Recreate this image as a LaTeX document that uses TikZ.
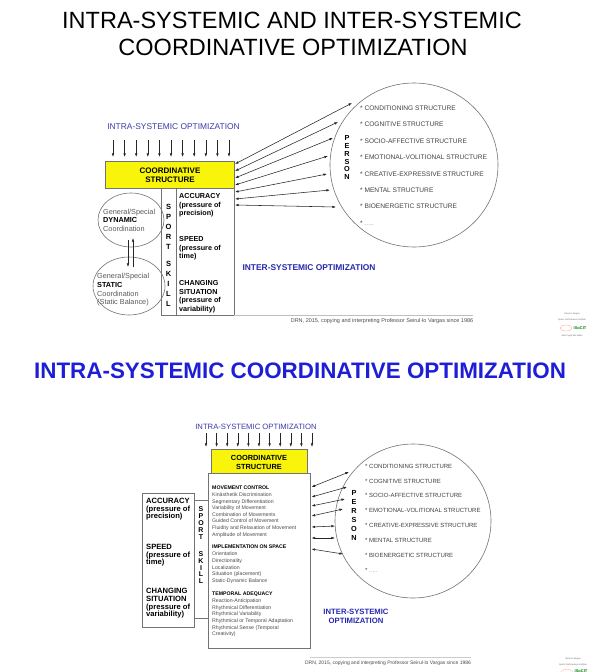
\documentclass[tikz,border=0pt]{standalone}
\usepackage{fontspec}
\setmainfont{Liberation Sans}
\usetikzlibrary{arrows.meta,shapes.geometric}
\definecolor{lblblue}{RGB}{60,60,170}
\definecolor{interblue}{RGB}{40,40,175}
\definecolor{ttlblue}{RGB}{30,30,215}
\definecolor{boxgray}{RGB}{115,115,115}
\definecolor{txtgray}{RGB}{65,65,65}
\definecolor{yel}{RGB}{248,244,10}
\newcommand{\fsz}[2]{\fontsize{#1}{#2}\selectfont}
\begin{document}
\begin{tikzpicture}[x=1pt,y=-1pt,
  myhead/.tip={Latex[length=3.6pt,width=2.5pt]},
  arr/.style={-myhead, line width=0.55pt, draw=black!85},
  darr/.style={myhead-myhead, line width=0.55pt, draw=black!85},
  txt/.style={inner sep=0pt, align=left, anchor=north west},
  ctxt/.style={inner sep=0pt, align=center},
  boxnd/.style={draw=boxgray, line width=0.6pt, inner sep=0pt, anchor=north west, fill=white},
  ybox/.style={boxnd, fill=yel},
  ovalnd/.style={draw=boxgray, line width=0.6pt, ellipse, inner sep=0pt}
]
\useasboundingbox (0,0) rectangle (600,672);
\fill[white] (0,0) rectangle (600,672);

% ================= TOP DIAGRAM =================
\node[ctxt, font=\fsz{23.5}{27}] (title1) at (292,20) {INTRA-SYSTEMIC AND INTER-SYSTEMIC};
\node[ctxt, font=\fsz{23.5}{27}] (title2) at (293,47.5) {COORDINATIVE OPTIMIZATION};

\node[ctxt, font=\fsz{8.4}{10}, text=lblblue] (intraA) at (173.5,127) {INTRA-SYSTEMIC OPTIMIZATION};
\foreach \i in {0,...,10}{
  \coordinate (da\i) at ({113+\i*11.6},140);
  \coordinate (db\i) at ({113+\i*11.6},157);
  \draw[arr] (da\i) -- (db\i);
}

% circle PERSON (top)
\node[ovalnd, minimum width=168pt, minimum height=164pt] (persA) at (414,165) {};
\node[txt, font=\fsz{6.6}{16.4}, text=txtgray] (itemsA) at (360,105.6)
 {* CONDITIONING STRUCTURE\\* COGNITIVE STRUCTURE\\* SOCIO-AFFECTIVE STRUCTURE\\* EMOTIONAL-VOLITIONAL STRUCTURE\\* CREATIVE-EXPRESSIVE STRUCTURE\\* MENTAL STRUCTURE\\* BIOENERGETIC STRUCTURE\\* {\color{black!40}.....}};
\node[ctxt, anchor=north, font=\bfseries\fsz{7.3}{7.8}] (personA) at (347,135.4) {P\\E\\R\\S\\O\\N};

% skill box (top)
\node[boxnd, minimum width=73pt, minimum height=127pt] (skillA) at (161,188) {};
\draw[draw=boxgray, line width=0.6pt] (skillA.north west) ++(15,0) coordinate (sdA1) -- (sdA1 |- skillA.south) coordinate (sdA2);
\node[ybox, minimum width=129pt, minimum height=27pt] (coordA) at (105,161) {};
\node[ctxt, font=\bfseries\fsz{8}{9}] (coordAt) at (170,175.5) {COORDINATIVE\\STRUCTURE};
\node[ctxt, anchor=north, font=\bfseries\fsz{7.5}{10}] (sportA) at (168.5,204.3) {S\\P\\O\\R\\T};
\node[ctxt, anchor=north, font=\bfseries\fsz{7.5}{10}] (skilA) at (168.5,261.3) {S\\K\\I\\L\\L};
\node[txt, font=\bfseries\fsz{7.2}{8.6}] (accA) at (179,193.4) {ACCURACY\\(pressure of\\precision)};
\node[txt, font=\bfseries\fsz{7.2}{8.6}] (spdA) at (179,236.4) {SPEED\\(pressure of\\time)};
\node[txt, font=\bfseries\fsz{7.2}{8.6}] (chgA) at (179,280.4) {CHANGING\\SITUATION\\(pressure of\\variability)};

% ellipses (top)
\node[ovalnd, minimum width=66pt, minimum height=54pt] (dynA) at (131,220) {};
\node[ovalnd, minimum width=72pt, minimum height=58pt] (statA) at (129,286) {};
\node[txt, font=\fsz{7.3}{8.1}, text=black!65] (dynAt) at (103,209.4) {General/Special\\{\bfseries\color{black}DYNAMIC}\\Coordination};
\node[txt, font=\fsz{7.3}{8.7}, text=black!65] (statAt) at (97,273.4) {General/Special\\{\bfseries\color{black}STATIC}\\Coordination\\(Static Balance)};
\coordinate (vA1) at (128,240); \coordinate (vA2) at (128,267);
\coordinate (vB1) at (133,267); \coordinate (vB2) at (133,238);
\draw[arr] (vA1) -- (vA2);
\draw[arr] (vB1) -- (vB2);

% inter arrows (top)
\foreach \n/\ly/\rx/\ry in {1/164/352/103, 2/171/338/122, 3/178/333/138, 4/185/328/156, 5/192/327/174, 6/199/330/190, 7/205/336/207}{
  \coordinate (tL\n) at (235,\ly);
  \coordinate (tR\n) at (\rx,\ry);
  \draw[darr] (tL\n) -- (tR\n);
}
\node[ctxt, font=\bfseries\fsz{8.4}{10}, text=interblue] (interA) at (309,268) {INTER-SYSTEMIC OPTIMIZATION};

\coordinate (sepA1) at (234,315.5); \coordinate (sepA2) at (473,315.5);
\draw[black!25, line width=0.4pt] (sepA1) -- (sepA2);
\node[ctxt, font=\fsz{5.5}{6}, text=black!70] (creditA) at (382,321) {DRN, 2015, copying and interpreting Professor Seirul·lo Vargas since 1986};

% logo (top)
\node[ctxt, font=\fsz{2.2}{2.6}, text=black!60] (logoA1) at (572,314) {Seirul·lo Vargas};
\node[ctxt, font=\fsz{2.2}{2.6}, text=black!60] (logoA2) at (572,320) {Sports Performance Institute};
\draw[pink!80!red, line width=0.3pt] (566,328) ellipse [x radius=6pt, y radius=3pt];
\node[ctxt, font=\bfseries\fsz{4}{4}, text=green!50!black] (logoA3) at (580,328) {ISoCIT};
\node[ctxt, font=\fsz{2.2}{2.6}, text=black!60] (logoA4) at (572,336) {Sant Cugat del Vallès};

% ================= BOTTOM DIAGRAM =================
\node[ctxt, font=\bfseries\fsz{22.4}{26}, text=ttlblue] (title3) at (300,371) {INTRA-SYSTEMIC COORDINATIVE OPTIMIZATION};

\node[ctxt, font=\fsz{7.7}{9}, text=lblblue] (intraB) at (256,427) {INTRA-SYSTEMIC OPTIMIZATION};
\foreach \i in {0,...,10}{
  \coordinate (ea\i) at ({206+\i*10.6},433);
  \coordinate (eb\i) at ({206+\i*10.6},447);
  \draw[arr] (ea\i) -- (eb\i);
}
\node[ybox, minimum width=96pt, minimum height=24pt] (coordB) at (211,449) {};
\node[ctxt, font=\bfseries\fsz{7.4}{9}] (coordBt) at (259,462.5) {COORDINATIVE\\STRUCTURE};

\node[boxnd, minimum width=102pt, minimum height=175pt] (mainB) at (208,473) {};
\node[txt, font=\fsz{5.2}{6.6}, text=black!70] (mcB) at (212,486.1)
 {{\bfseries\color{black}MOVEMENT CONTROL}\\Kinästhetik Discrimination\\Segmentary Differentiation\\Variability of Movement\\Combination of Movements\\Guided Control of Movement\\Fluidity and Relaxation of Movement\\Amplitude of Movement};
\node[txt, font=\fsz{5.2}{6.75}, text=black!70] (isB) at (212,545.1)
 {{\bfseries\color{black}IMPLEMENTATION ON SPACE}\\Orientation\\Directionality\\Localization\\Situation (placement)\\Static-Dynamic Balance};
\node[txt, font=\fsz{5.2}{6.65}, text=black!70] (taB) at (212,592.1)
 {{\bfseries\color{black}TEMPORAL ADEQUACY}\\Reaction-Anticipation\\Rhythmical Differentiation\\Rhythmical Variability\\Rhythmical or Temporal Adaptation\\Rhythmical Sense (Temporal\\Creativity)};

\node[boxnd, minimum width=14pt, minimum height=118pt] (skillB) at (194,500) {};
\node[ctxt, anchor=north, font=\bfseries\fsz{7}{7}] (sportB) at (201,506.5) {S\\P\\O\\R\\T};
\node[ctxt, anchor=north, font=\bfseries\fsz{7}{6.75}] (skilB) at (201,551.5) {S\\K\\I\\L\\L};

\node[boxnd, minimum width=52pt, minimum height=134pt] (leftB) at (142,493) {};
\node[txt, font=\bfseries\fsz{7.6}{7.3}] (accB) at (146,498.3) {ACCURACY\\(pressure of\\precision)};
\node[txt, font=\bfseries\fsz{7.6}{7.3}] (spdB) at (146,544.3) {SPEED\\(pressure of\\time)};
\node[txt, font=\bfseries\fsz{7.6}{7.7}] (chgB) at (146,588.3) {CHANGING\\SITUATION\\(pressure of\\variability)};

\node[ovalnd, minimum width=156pt, minimum height=154pt] (persB) at (413,521) {};
\node[txt, font=\fsz{6.0}{14.9}, text=txtgray] (itemsB) at (365,463.8)
 {* CONDITIONING STRUCTURE\\* COGNITIVE STRUCTURE\\* SOCIO-AFFECTIVE STRUCTURE\\* EMOTIONAL-VOLITIONAL STRUCTURE\\* CREATIVE-EXPRESSIVE STRUCTURE\\* MENTAL STRUCTURE\\* BIOENERGETIC STRUCTURE\\* {\color{black!40}.....}};
\node[ctxt, anchor=north, font=\bfseries\fsz{7.3}{9}] (personB) at (354,490.4) {P\\E\\R\\S\\O\\N};

\foreach \n/\ly/\rx/\ry in {1/487/349/472, 2/497/347/487, 3/506/345/499, 4/516/343/509, 5/527/335/526, 6/538/335/538, 7/549/343/554}{
  \coordinate (bL\n) at (311.5,\ly);
  \coordinate (bR\n) at (\rx,\ry);
  \draw[darr] (bL\n) -- (bR\n);
}
\node[ctxt, font=\bfseries\fsz{7.7}{9}, text=interblue] (interB) at (356,616.5) {INTER-SYSTEMIC\\OPTIMIZATION};

\coordinate (sepB1) at (310,657); \coordinate (sepB2) at (471,657);
\draw[black!20, line width=0.4pt] (sepB1) -- (sepB2);
\node[ctxt, font=\fsz{5}{6}, text=black!70] (creditB) at (388,663) {DRN, 2015, copying and interpreting Professor Seirul·lo Vargas since 1986};

% logo (bottom, cut off)
\node[ctxt, font=\fsz{2.2}{2.6}, text=black!60] (logoB1) at (573,659) {Seirul·lo Vargas};
\node[ctxt, font=\fsz{2.2}{2.6}, text=black!60] (logoB2) at (573,665) {Sports Performance Institute};
\draw[pink!80!red, line width=0.3pt] (567,672) ellipse [x radius=6pt, y radius=2.5pt];
\node[ctxt, font=\bfseries\fsz{4}{4}, text=green!50!black] (logoB3) at (581,671) {ISoCIT};
\end{tikzpicture}
\end{document}
